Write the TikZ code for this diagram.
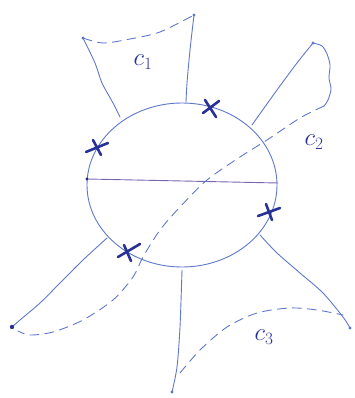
\documentclass[tikz,border=0pt]{standalone}
\begin{document}
\begin{tikzpicture}[x=1pt,y=-1pt,
  pen/.style={draw=penblue,line width=0.9pt,line cap=round,line join=round},
  dashpen/.style={pen,dash pattern=on 9pt off 6pt},
  crossmark/.style={draw=inkblue,line width=2.6pt,line cap=round},
  lbl/.style={text=inkblue,font=\fontsize{24}{26}\selectfont}]
\definecolor{penblue}{RGB}{95,120,205}
\definecolor{inkblue}{RGB}{40,50,150}
\useasboundingbox (0,0) rectangle (354,398);
% disc
\coordinate (ctr) at (182,185);
\draw[pen] (ctr) ellipse [x radius=95, y radius=82];
% chord
\coordinate (chL) at (87,179);
\coordinate (chR) at (278,183);
\draw[pen,draw=penblue!85!red] (chL) -- (chR);
\fill[inkblue!80!black] (chL) circle (1.6);
% C1
\coordinate (a1) at (120,117);
\coordinate (a2) at (83,38);
\coordinate (b1) at (186,102);
\coordinate (b2) at (194,15);
\draw[pen] plot[smooth] coordinates {(a1) (113,103) (102,83) (95,63) (a2)};
\draw[pen] plot[smooth] coordinates {(b1) (187,83) (190,50) (b2)};
\draw[dashpen] plot[smooth] coordinates {(a2) (103,43) (130,39) (160,32) (b2)};
\fill[penblue] (a2) circle (1.6) (b2) circle (1.6);
\node[lbl] (c1) at (143,62) {$c_{1}$};
% C2
\coordinate (d1) at (252,125);
\coordinate (d2) at (313,43);
\coordinate (e1) at (107,238);
\coordinate (e2) at (12,327);
\draw[pen] plot[smooth] coordinates {(d1) (277,90) (297,63) (d2)};
\draw[pen] plot[smooth] coordinates {(d2) (322,46) (327,54) (330,65) (329,78) (331,89) (328,100) (324,106)};
\draw[dashpen] plot[smooth] coordinates {(324,106) (300,118) (267,140) (240,157) (207,180) (180,207) (160,230) (143,257) (133,277) (113,300) (83,320) (53,332) (30,335) (18,331)};
\draw[pen] plot[smooth] coordinates {(e1) (83,260) (60,283) (40,303) (20,320) (e2)};
\fill[inkblue] (e2) circle (2.2);
\fill[penblue] (d2) circle (1.6);
\node[lbl] (c2) at (314,142) {$c_{2}$};
% C3
\coordinate (f1) at (182,270);
\coordinate (f2) at (172,392);
\coordinate (g1) at (260,235);
\coordinate (g2) at (350,328);
\draw[pen] plot[smooth] coordinates {(f1) (180,327) (177,367) (f2)};
\draw[pen] plot[smooth] coordinates {(g1) (277,253) (300,273) (323,293) (343,317) (g2)};
\draw[dashpen] plot[smooth] coordinates {(180,373) (200,350) (227,327) (257,313) (290,308) (317,310) (343,315)};
\fill[penblue] (f2) circle (1.6) (g2) circle (1.6);
\node[lbl] (c3) at (264,337) {$c_{3}$};
% crosses
\draw[crossmark] (205,100) -- (216,117) (203,113) -- (219,101);
\draw[crossmark] (86,152) -- (108,143) (93,140) -- (101,155);
\draw[crossmark] (258,216) -- (280,208) (266,204) -- (272,220);
\draw[crossmark] (118,257) -- (140,244) (124,245) -- (131,261);
\end{tikzpicture}
\end{document}
